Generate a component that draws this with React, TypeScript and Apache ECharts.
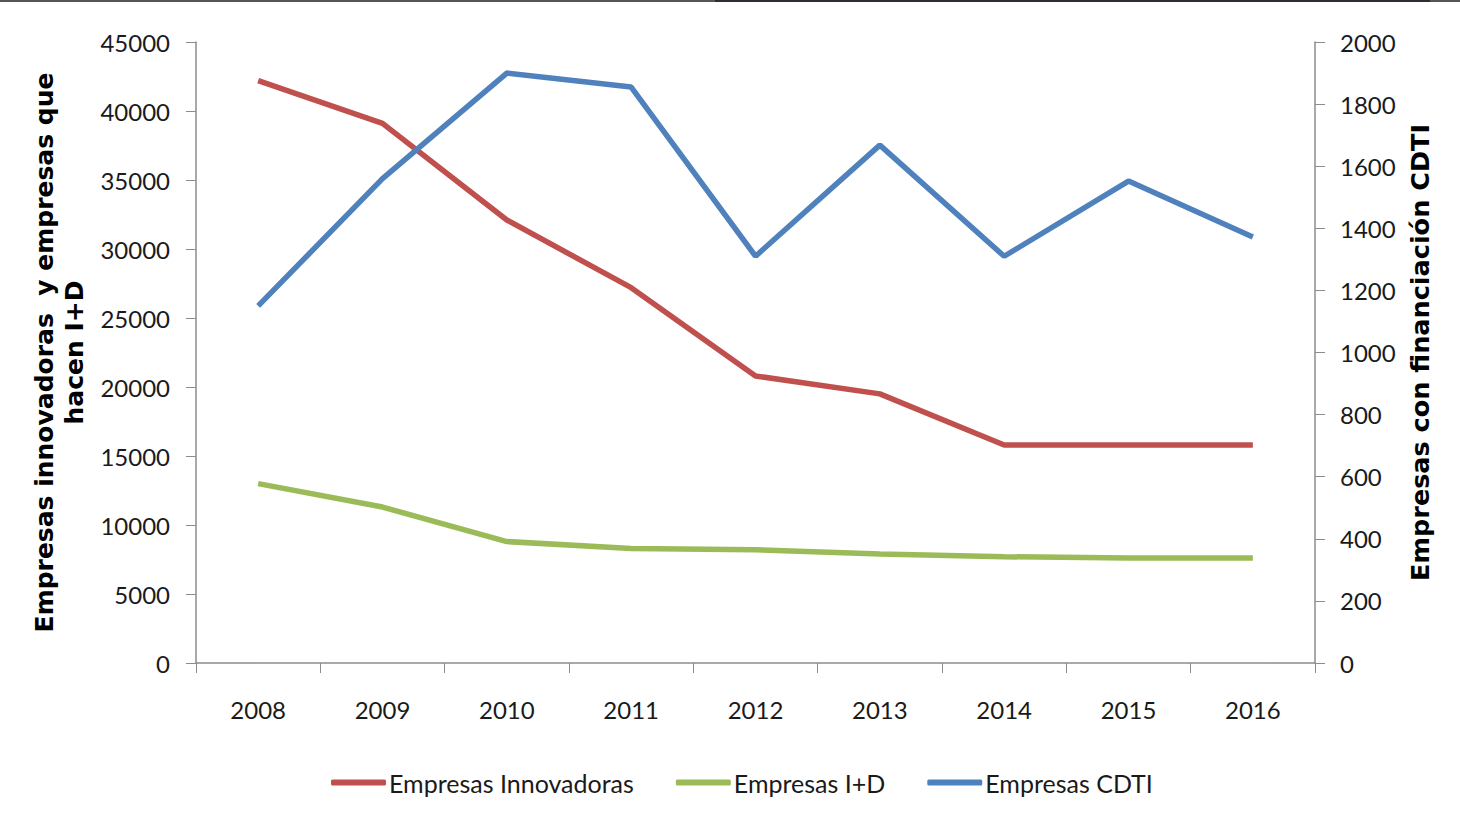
import React, { useEffect, useRef } from "react";
import * as echarts from "echarts";

const years = ["2008", "2009", "2010", "2011", "2012", "2013", "2014", "2015", "2016"];
const innovadoras = [42200, 39100, 32100, 27200, 20800, 19500, 15800, 15800, 15800];
const idEmpresas = [13000, 11300, 8800, 8300, 8200, 7900, 7700, 7600, 7600];
const cdti = [1150, 1560, 1900, 1855, 1310, 1668, 1310, 1552, 1372];

const leftTitle = "Empresas innovadoras  y empresas que\nhacen I+D";
const rightTitle = "Empresas con financiación CDTI";

const FONT = "Lato, 'Open Sans', sans-serif";
const TITLE_FONT = "'DejaVu Sans', Verdana, sans-serif";
const AXIS_COLOR = "#8c8c8c";
const TEXT_COLOR = "#1a1a1a";

const plain = (v: number) => String(v);

export default function App() {
  const ref = useRef<HTMLDivElement>(null);

  useEffect(() => {
    document.body.style.margin = "0";
    const chart = echarts.init(ref.current!, null, { renderer: "svg" });
    chart.setOption({
      animation: false,
      backgroundColor: "#ffffff",
      grid: { left: 196, right: 145, top: 42, bottom: 166, containLabel: false },
      graphic: [
        { type: "rect", shape: { x: 0, y: 0, width: 715, height: 2 }, style: { fill: "#555555" } },
        { type: "rect", shape: { x: 715, y: 0, width: 715, height: 2 }, style: { fill: "#2b2e35" } },
        { type: "rect", shape: { x: 1430, y: 0, width: 30, height: 2 }, style: { fill: "#555555" } },
      ],
      legend: {
        bottom: 29,
        left: 326,
        icon: "roundRect",
        itemWidth: 55,
        itemHeight: 6,
        itemGap: 42,
        textStyle: { fontFamily: FONT, fontSize: 25, color: TEXT_COLOR, padding: [0, 0, 0, -2] },
        data: ["Empresas Innovadoras", "Empresas I+D", "Empresas CDTI"],
      },
      xAxis: {
        type: "category",
        data: years,
        boundaryGap: true,
        axisLine: { lineStyle: { color: AXIS_COLOR, width: 1.5 } },
        axisTick: { show: true, length: 10, alignWithLabel: false, lineStyle: { color: AXIS_COLOR } },
        axisLabel: { margin: 34, fontFamily: FONT, fontSize: 24, color: TEXT_COLOR },
        splitLine: { show: false },
      },
      yAxis: [
        {
          type: "value",
          min: 0,
          max: 45000,
          interval: 5000,
          position: "left",
          name: leftTitle,
          nameLocation: "middle",
          nameRotate: 90,
          nameGap: 93,
          nameTextStyle: {
            fontFamily: TITLE_FONT,
            fontWeight: "bold",
            fontSize: 25,
            color: "#000",
            lineHeight: 30,
            align: "center",
          },
          axisLine: { show: true, lineStyle: { color: AXIS_COLOR, width: 1.5 } },
          axisTick: { show: true, length: 10, lineStyle: { color: AXIS_COLOR } },
          axisLabel: { margin: 26, fontFamily: FONT, fontSize: 24, color: TEXT_COLOR, formatter: plain },
          splitLine: { show: false },
        },
        {
          type: "value",
          min: 0,
          max: 2000,
          interval: 200,
          position: "right",
          name: rightTitle,
          nameLocation: "middle",
          nameRotate: 90,
          nameGap: 88,
          nameTextStyle: {
            fontFamily: TITLE_FONT,
            fontWeight: "bold",
            fontSize: 25.5,
            color: "#000",
          },
          axisLine: { show: true, lineStyle: { color: AXIS_COLOR, width: 1.5 } },
          axisTick: { show: true, length: 10, lineStyle: { color: AXIS_COLOR } },
          axisLabel: { margin: 25, fontFamily: FONT, fontSize: 24, color: TEXT_COLOR, formatter: plain },
          splitLine: { show: false },
        },
      ],
      series: [
        {
          name: "Empresas Innovadoras",
          type: "line",
          yAxisIndex: 0,
          data: innovadoras,
          symbol: "none",
          lineStyle: { color: "#C0504D", width: 5.5 },
          itemStyle: { color: "#C0504D" },
        },
        {
          name: "Empresas I+D",
          type: "line",
          yAxisIndex: 0,
          data: idEmpresas,
          symbol: "none",
          lineStyle: { color: "#9BBB59", width: 5.5 },
          itemStyle: { color: "#9BBB59" },
        },
        {
          name: "Empresas CDTI",
          type: "line",
          yAxisIndex: 1,
          data: cdti,
          symbol: "none",
          lineStyle: { color: "#4F81BD", width: 5.5 },
          itemStyle: { color: "#4F81BD" },
        },
      ],
    });
    return () => chart.dispose();
  }, []);

  return <div ref={ref} style={{ width: 1460, height: 829 }} />;
}
